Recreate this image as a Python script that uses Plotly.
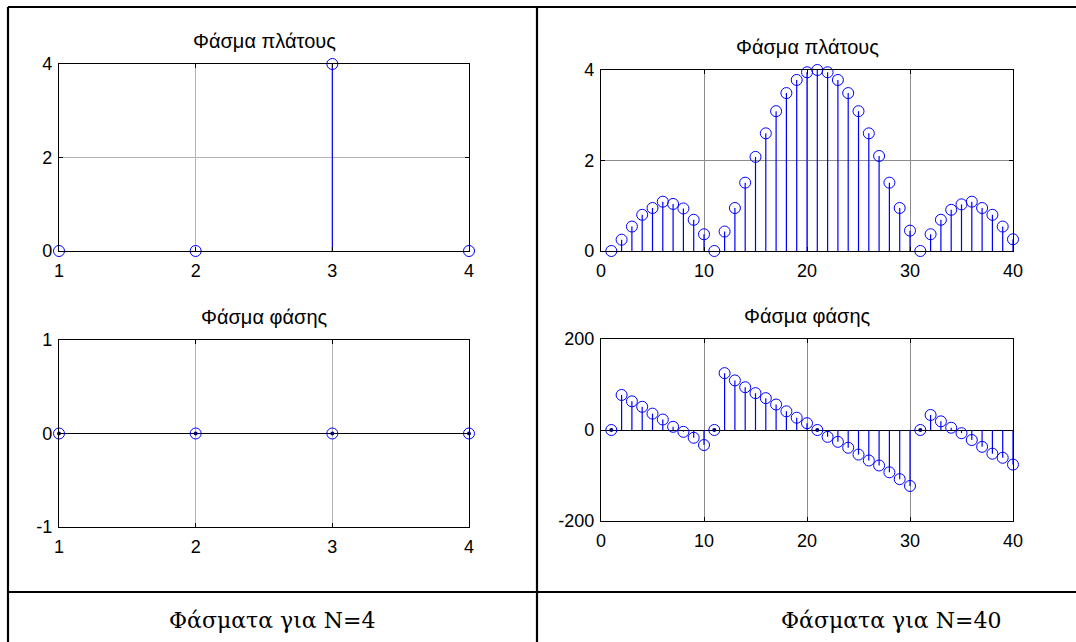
import plotly.graph_objects as go

W, H = 1076, 642

# ---- data ----
n4 = [1, 2, 3, 4]
amp4 = [0, 0, 4, 0]
phase4 = [0, 0, 0, 0]

n40 = list(range(1, 41))
amp40 = [0, 0.25, 0.54, 0.80, 0.95, 1.09, 1.04, 0.94, 0.69, 0.37,
         0, 0.43, 0.95, 1.51, 2.08, 2.60, 3.09, 3.49, 3.78, 3.95,
         4.0, 3.95, 3.78, 3.49, 3.09, 2.60, 2.10, 1.51, 0.95, 0.45,
         0, 0.37, 0.69, 0.91, 1.03, 1.09, 0.95, 0.80, 0.54, 0.26]
phase40 = [0, 77, 63, 51, 36, 23, 7, -4, -17, -33,
           0, 125, 109, 94, 81, 70, 56, 41, 27, 15,
           0, -15, -26, -39, -54, -67, -78, -93, -108, -123,
           0, 33, 19, 5, -7, -22, -37, -52, -61, -76]

# tick values / labels (ASCII hyphen as in the original)
xt4 = [1, 2, 3, 4]
xt40 = [0, 10, 20, 30, 40]
yt_amp = [0, 2, 4]
yt_ph4 = [-1, 0, 1]
yt_ph4_lbl = ["-1", "0", "1"]
yt_ph40 = [-200, 0, 200]
yt_ph40_lbl = ["-200", "0", "200"]

title_amp = "Φάσμα πλάτους"
title_phase = "Φάσμα φάσης"
caption_left = "Φάσματα για N=4"
caption_right = "Φάσματα για N=40"

BLUE = "#0000ff"
TICKFONT = dict(family="Liberation Sans, Arial, sans-serif", size=18, color="black")
TITLEFONT = dict(family="Liberation Sans, Arial, sans-serif", size=20, color="black")


def px(x):
    return x / W


def py(y):
    return 1 - y / H


fig = go.Figure()


def add_stem(xs, ys, axn, dots=False):
    lx, ly = [], []
    for x, y in zip(xs, ys):
        lx += [x, x, None]
        ly += [0, y, None]
    xa = "x" if axn == 1 else f"x{axn}"
    ya = "y" if axn == 1 else f"y{axn}"
    fig.add_trace(go.Scatter(x=lx, y=ly, mode="lines", line=dict(color=BLUE, width=1.2),
                             xaxis=xa, yaxis=ya, showlegend=False, hoverinfo="skip",
                             cliponaxis=False))
    fig.add_trace(go.Scatter(x=xs, y=ys, mode="markers",
                             marker=dict(symbol="circle-open", size=11, color=BLUE,
                                         line=dict(width=1, color=BLUE)),
                             xaxis=xa, yaxis=ya, showlegend=False, cliponaxis=False))
    if dots:
        zx = [x for x, y in zip(xs, ys) if y == 0]
        zy = [0 for _ in zx]
        fig.add_trace(go.Scatter(x=zx, y=zy, mode="markers",
                                 marker=dict(symbol="circle", size=4, color="#000080"),
                                 xaxis=xa, yaxis=ya, showlegend=False, cliponaxis=False))


add_stem(n4, amp4, 1)
add_stem(n4, phase4, 2, dots=True)
add_stem(n40, amp40, 3)
add_stem(n40, phase40, 4, dots=True)

# axes geometry (pixels)
boxes = {
    1: (59, 469, 64, 251),
    2: (59, 469, 340, 527),
    3: (601, 1013, 70, 251),
    4: (601, 1013, 339, 521),
}
xranges = {1: [1, 4], 2: [1, 4], 3: [0, 40], 4: [0, 40]}
xticks = {1: xt4, 2: xt4, 3: xt40, 4: xt40}
yranges = {1: [0, 4], 2: [-1, 1], 3: [0, 4], 4: [-200, 200]}
yticks = {1: yt_amp, 2: yt_ph4, 3: yt_amp, 4: yt_ph40}
ylabels = {1: [str(v) for v in yt_amp], 2: yt_ph4_lbl, 3: [str(v) for v in yt_amp], 4: yt_ph40_lbl}
titles = {1: title_amp, 2: title_phase, 3: title_amp, 4: title_phase}
gridc = {1: "#b4b4b4", 2: "#b4b4b4", 3: "#8c8c8c", 4: "#8c8c8c"}

common = dict(showline=True, linecolor="black", linewidth=1.3, mirror="ticks",
              ticks="inside", ticklen=4, tickcolor="black", tickwidth=1,
              tickfont=TICKFONT, showgrid=True, gridwidth=1,
              fixedrange=True, automargin=False)

for k, (x0, x1, y0, y1) in boxes.items():
    xn = "xaxis" if k == 1 else f"xaxis{k}"
    yn = "yaxis" if k == 1 else f"yaxis{k}"
    anchor_y = "y" if k == 1 else f"y{k}"
    anchor_x = "x" if k == 1 else f"x{k}"
    fig.layout[xn] = dict(domain=[px(x0), px(x1)], range=xranges[k], tickvals=xticks[k],
                          ticktext=[str(v) for v in xticks[k]], gridcolor=gridc[k],
                          anchor=anchor_y, zeroline=False, ticklabelstandoff=3, **common)
    fig.layout[yn] = dict(domain=[py(y1), py(y0)], range=yranges[k], tickvals=yticks[k],
                          ticktext=ylabels[k], gridcolor=gridc[k],
                          anchor=anchor_x, zeroline=(k in (2, 4)), zerolinecolor="black",
                          zerolinewidth=1.3, ticklabelstandoff=2, **common)
    fig.add_annotation(x=px((x0 + x1) / 2), y=py(y0 - 23), xref="paper", yref="paper",
                       text=titles[k], showarrow=False, font=TITLEFONT,
                       xanchor="center", yanchor="middle")

# table borders
LW = 2.2
for (xa, ya, xb, yb) in [(8, 7, 8, 642), (8, 7, 1076, 7), (537, 7, 537, 642), (8, 592, 1076, 592)]:
    fig.add_shape(type="line", xref="paper", yref="paper",
                  x0=px(xa), y0=py(ya), x1=px(xb), y1=py(yb),
                  line=dict(color="black", width=LW))

CAPFONT = dict(family="DejaVu Serif, serif", size=22, color="black")
fig.add_annotation(x=px(272), y=py(620), xref="paper", yref="paper", text=caption_left,
                   showarrow=False, font=CAPFONT, xanchor="center", yanchor="middle")
fig.add_annotation(x=px(891), y=py(620), xref="paper", yref="paper", text=caption_right,
                   showarrow=False, font=CAPFONT, xanchor="center", yanchor="middle")

fig.update_layout(width=W, height=H, margin=dict(l=0, r=0, t=0, b=0, autoexpand=False),
                  paper_bgcolor="white", plot_bgcolor="white", showlegend=False)

fig.write_html("out.html")
